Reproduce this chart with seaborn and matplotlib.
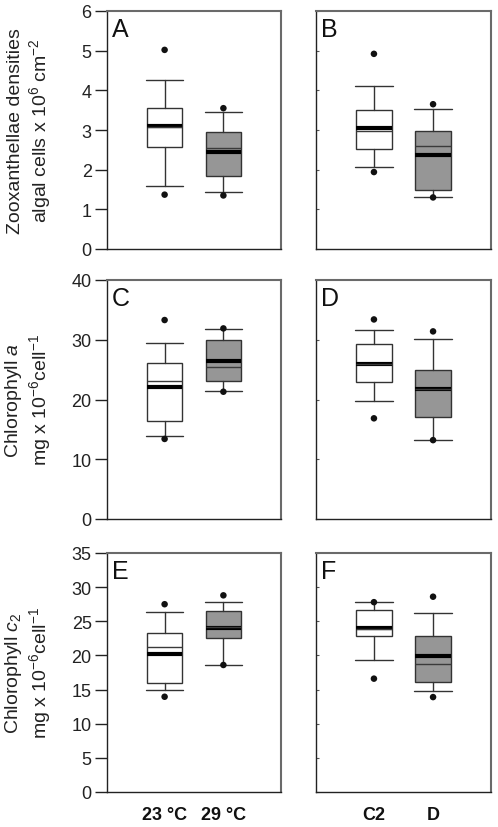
import matplotlib
matplotlib.use("Agg")
import matplotlib.pyplot as plt
import numpy as np
import pandas as pd
import seaborn as sns

# ---------------- data ----------------
panels = ["A", "B", "C", "D", "E", "F"]
temp_labels = ["23 °C", "29 °C"]
clade_labels = ["C2", "D"]

# each entry: [white box, gray box]
whisker_low = {"A": [1.58, 1.44], "B": [2.07, 1.31], "C": [13.84, 21.37],
               "D": [19.7, 13.3], "E": [15.0, 18.6], "F": [19.26, 14.85]}
quart_1 = {"A": [2.57, 1.83], "B": [2.51, 1.50], "C": [16.4, 23.1],
           "D": [23.0, 17.07], "E": [16.0, 22.6], "F": [22.8, 16.1]}
median = {"A": [3.10, 2.44], "B": [3.06, 2.36], "C": [22.15, 26.45],
          "D": [25.9, 21.7], "E": [20.2, 24.0], "F": [24.0, 19.9]}
mean = {"A": [3.08, 2.55], "B": [2.97, 2.60], "C": [23.1, 25.5],
        "D": [25.9, 21.8], "E": [21.2, 24.1], "F": [23.9, 18.8]}
quart_3 = {"A": [3.55, 2.96], "B": [3.50, 2.98], "C": [26.1, 30.0],
           "D": [29.3, 24.9], "E": [23.3, 26.5], "F": [26.7, 22.9]}
whisker_high = {"A": [4.27, 3.45], "B": [4.11, 3.52], "C": [29.46, 31.8],
                "D": [31.6, 30.1], "E": [26.3, 27.85], "F": [27.8, 26.2]}
outlier_low = {"A": [1.37, 1.35], "B": [1.94, 1.30], "C": [13.4, 21.3],
               "D": [16.85, 13.2], "E": [13.95, 18.6], "F": [16.6, 13.9]}
outlier_high = {"A": [5.02, 3.55], "B": [4.92, 3.65], "C": [33.3, 31.9],
                "D": [33.4, 31.4], "E": [27.5, 28.8], "F": [27.8, 28.6]}

row_ylim = [(0, 6), (0, 40), (0, 35)]
row_yticks = [np.arange(0, 7, 1), np.arange(0, 41, 10), np.arange(0, 36, 5)]
row_ylabels = ["Zooxanthellae densities\nalgal cells x 10$^{6}$ cm$^{-2}$",
               "Chlorophyll $\\mathit{a}$\nmg x 10$^{-6}$cell$^{-1}$",
               "Chlorophyll $\\mathit{c}_{2}$\nmg x 10$^{-6}$cell$^{-1}$"]

box_colors = ["white", "#969696"]

# ---------------- style ----------------
sns.set_theme(style="ticks")
plt.rcParams["font.family"] = ["Liberation Sans", "DejaVu Sans"]
plt.rcParams["mathtext.fontset"] = "custom"
plt.rcParams["mathtext.rm"] = "Liberation Sans"
plt.rcParams["mathtext.it"] = "Liberation Sans:italic"
plt.rcParams["mathtext.bf"] = "Liberation Sans:bold"

fig = plt.figure(figsize=(4.98, 8.28), dpi=100)

col_left = [107 / 498, 316 / 498]
col_width = [174 / 498, 175 / 498]
row_bottom = [1 - 250 / 828, 1 - 520 / 828, 1 - 793 / 828]
row_height = [238 / 828, 239 / 828, 239 / 828]

positions = [0, 1]

for i, p in enumerate(panels):
    r, c = divmod(i, 2)
    ax = fig.add_axes([col_left[c], row_bottom[r], col_width[c], row_height[r]])

    stats = []
    for k in range(2):
        stats.append(dict(whislo=whisker_low[p][k], q1=quart_1[p][k],
                          med=median[p][k], mean=mean[p][k],
                          q3=quart_3[p][k], whishi=whisker_high[p][k],
                          fliers=[]))
    bp = ax.bxp(stats, positions=positions, widths=0.60, patch_artist=True,
                showmeans=True, meanline=True, showfliers=False,
                capwidths=0.64, manage_ticks=False,
                boxprops=dict(edgecolor="#333333", linewidth=1.0),
                whiskerprops=dict(color="#333333", linewidth=1.0),
                capprops=dict(color="#333333", linewidth=1.0),
                medianprops=dict(color="black", linewidth=3.0),
                meanprops=dict(color="#3a3a3a", linewidth=1.0, linestyle="-"))
    for patch, fc in zip(bp["boxes"], box_colors):
        patch.set_facecolor(fc)

    df = pd.DataFrame({
        "pos": positions + positions,
        "value": outlier_low[p] + outlier_high[p],
    })
    sns.scatterplot(data=df, x="pos", y="value", ax=ax, color="#111111",
                    s=22, edgecolor="none", zorder=5, legend=False)

    ax.set_xlim(-0.98, 1.98)
    ax.set_ylim(*row_ylim[r])
    ax.set_yticks(row_yticks[r])
    ax.set_xlabel("")
    ax.set_ylabel("")

    for side in ["left", "bottom"]:
        ax.spines[side].set_color("#222222")
        ax.spines[side].set_linewidth(1.0)
    for side in ["top", "right"]:
        ax.spines[side].set_color("#6a6a6a")
        ax.spines[side].set_linewidth(1.5)

    if c == 0:
        ax.tick_params(axis="y", direction="out", length=9, width=1.0,
                       color="#222222", labelsize=13, pad=2,
                       labelcolor="#222222")
        ax.set_ylabel(row_ylabels[r], fontsize=14, color="#222222",
                      linespacing=1.15)
        ax.yaxis.set_label_coords(-0.31, 0.5)
        ax.set_xticks(positions)
        ax.set_xticklabels(temp_labels)
    else:
        ax.tick_params(axis="y", direction="in", length=2.5, width=0.8,
                       color="#555555", labelleft=False)
        ax.set_xticks(positions)
        ax.set_xticklabels(clade_labels)

    if r == 2:
        ax.tick_params(axis="x", length=0, pad=10, labelsize=13,
                       labelcolor="#111111")
        for t in ax.get_xticklabels():
            t.set_fontweight("bold")
    else:
        ax.tick_params(axis="x", length=0, labelbottom=False)

    ax.text(0.03, 0.975, p, transform=ax.transAxes, ha="left", va="top",
            fontsize=18, color="#111111")

fig.savefig("out.png", dpi=100)
